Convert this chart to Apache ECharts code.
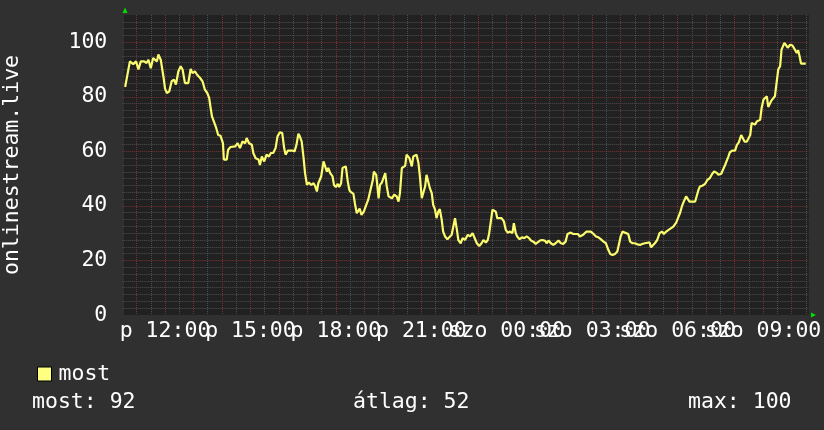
<!DOCTYPE html>
<html><head><meta charset="utf-8">
<script src="https://cdn.jsdelivr.net/npm/echarts@6/dist/echarts.min.js"></script>
<style>html,body{margin:0;padding:0;background:#303030;}#c{width:824px;height:430px;}</style>
</head><body><div id="c"></div>
<script>
// minutes since Friday 00:00
const times = [636,646,653,659,664,669,676,681,685,690,695,703,706,711,715,717,720,724,729,734,739,743,748,753,757,762,769,774,778,783,788,794,799,804,809,813,816,819,823,828,832,837,842,844,850,853,858,
868,873,878,883,889,892,897,903,906,911,917,920,924,929,934,939,943,948,953,957,962,967,971,974,979,983,988,993,997,1001,1004,1008,1012,1015,1019,1023,1028,1033,1036,1040,1043,1049,1054,1057,1061,1064,1068,1073,1076,1080,1084,1087,1091,1094,1098,1101,1105,1108,
1110,1117,1120,1124,1130,1134,1139,1144,1148,1153,1158,1160,1165,1170,1173,1177,1180,1184,1187,1191,1194,1198,1203,1208,1212,1215,1219,1222,1226,1229,1235,1240,1243,1247,1250,1254,1257,1261,1264,1268,1271,1275,1278,1282,1285,1289,1292,1296,1299,1303,1306,1310,1315,1319,1324,1328,1331,1335,1338,1343,1347,
1352,1358,1363,1368,1372,1377,1382,1387,1391,1396,1400,1403,1407,1410,1414,1417,1420,1424,1429,1434,1438,1442,1447,1452,1455,1459,1462,1467,1472,1477,1482,1487,1491,1496,1501,1505,1510,1515,1521,1524,1528,1533,1538,1543,1549,1554,1559,1564,1568,1575,1580,1584,1590,
1594,1601,1608,1612,1617,1623,1628,1633,1638,1644,1649,1654,1658,1663,1668,1673,1677,1680,1684,1689,1696,1700,1705,1710,1715,1721,1726,1731,1735,1741,1744,1748,1752,1757,1762,1767,1771,1776,1781,1785,1791,1797,1802,1805,1809,1814,1818,1821,1825,1830,
1837,1840,1844,1847,1852,1858,1863,1868,1873,1877,1882,1886,1892,1896,1900,1903,1907,1910,1915,1921,1925,1929,1934,1936,1941,1946,1949,1953,1956,1960,1963,1967,1970,1974,1977,1981,1984,1988,1991,1995,1998,2002,2005,2009,2012,2016,2019,2023,2025,2028,2032,2037,2042,2046,2051,2054,2057,2060,2065,2070];
const values = [83.6,93,92,93,90,93,93,92.4,93.6,90.5,94.2,93,95.5,93.6,93,87,83,81.4,82,85.7,86.3,84.5,89.3,91.2,90,85,85,90.2,88.7,89.3,88,86.9,85.7,82.6,81.4,79.6,76,72.8,72.2,68.5,66,65.7,63,57,57,60.6,61.6,
61.8,63,61.2,63.6,63,64.9,63,62.4,59.4,57.5,57,55,58.1,56.3,58.8,58.1,59.4,59.4,61.2,65.5,67,66.7,61.2,58.8,60.3,60,60.3,60,62.4,66.5,65.5,63.6,57.5,52,47.7,48.6,47.7,48.3,47.4,45.3,48.3,50.8,56.3,56.7,52.6,53.9,52,50.8,47.7,46.9,48.1,46.9,48.3,53.9,54.3,54.5,49,46.1,
45.3,44.4,41,37.3,39,36.7,38,40.4,42.2,45.9,49.6,52.6,51.4,42.8,47.7,48.6,49,52,47.4,43.5,44.1,42.8,44.1,43.5,41.6,44.7,53.9,54.5,54.7,58.8,57.5,54.5,58.1,58.4,58.8,55.7,50.8,42.8,43.5,47.1,51.4,50.8,46.5,44.7,40.4,38.6,35.5,38,38.8,34.9,30.6,28.8,27.8,28.2,29.4,30,35.5,31.2,27.5,26.3,28.2,
27.5,29.4,28.8,30,30.6,26.3,25.3,26.3,27.5,26.6,27.5,30,30.6,38.6,38.8,37.9,35.5,34.9,35.5,34.3,31.2,30.2,30.6,30,33.7,30,28.8,27.8,28.5,28.2,28.8,28.2,27.3,26.9,26.1,26.3,27.3,27.5,27.2,26.3,27.3,26.3,25.7,26.3,27.3,26.3,26.1,26.9,29.7,30.2,29.7,29.4,29.7,
28.8,29.4,30.6,31.2,30.6,29.7,28.8,28.5,27.8,26.9,26.3,23.9,22.4,22,22.4,23.3,23.9,28.8,30.6,30.2,29.7,26.9,26.3,26.3,25.9,25.7,26.1,26.3,26.6,26.6,24.8,25.3,26.3,27.5,30,30.6,29.7,30.6,31.2,31.2,32.4,33.9,36.1,37.3,39.8,42,43.5,43.8,41.6,41.6,
41.6,42.2,45.9,47.1,47.4,48.1,49.6,50.2,51.8,52.6,52.2,51.4,51.8,51.4,55,55.7,58.1,59.6,60.3,60.3,62.4,63.3,66,66.3,63.6,63.6,63,66,70.4,70.6,69.8,71,71.4,71.6,75.9,79,79,80.2,76.3,76.5,78.7,79.2,80.2,80.8,90,91.2,97.3,97.6,99.8,99.5,98,99.1,98.8,97.6,96.1,97.1,94.9,92.2,92.2,92.2];
const xTickMinutes = [720, 900, 1080, 1260, 1440, 1620, 1800, 1980];
const xTickTexts = ['p 12:00','p 15:00','p 18:00','p 21:00','szo 00:00','szo 03:00','szo 06:00','szo 09:00'];
const yTickValues = [0, 20, 40, 60, 80, 100];
const seriesName = 'most';
const axisTitle = 'onlinestream.live';
const statTexts = ['most: 92', 'átlag: 52', 'max: 100'];

const FONT = 'DejaVu Sans Mono';
const FS = 21.5;
const RED = '#7a3232', GRAY = '#4e4e4e';
const chart = echarts.init(document.getElementById('c'), null, {renderer: 'canvas'});
const data = times.map((t, i) => [t, values[i]]);
const fontStr = FS + 'px "' + FONT + '"';
chart.setOption({
  backgroundColor: '#303030',
  animation: false,
  grid: {left: 122.3, top: 15, width: 686.3, height: 300, containLabel: false, outerBoundsMode: 'none', show: false},
  legend: {
    data: [{name: seriesName, icon: 'rect'}],
    left: 32, top: 358, itemWidth: 14, itemHeight: 14, itemGap: 0,
    itemStyle: {color: '#ffff80', borderColor: '#000', borderWidth: 1},
    textStyle: {color: '#ffffff', fontFamily: FONT, fontSize: FS, padding: [0, 0, 0, 2]}
  },
  xAxis: {
    type: 'value', min: 630, max: 2076, interval: 30,
    axisLine: {show: false}, axisTick: {show: false},
    splitLine: {show: true, showMinLine: false, showMaxLine: false,
      lineStyle: {color: [RED, GRAY], width: 1, type: [1, 1]}},
    axisLabel: {
      show: true, margin: 5, color: '#ffffff', fontFamily: FONT, fontSize: FS,
      hideOverlap: false, showMinLabel: true, showMaxLabel: true,
      formatter: v => { const i = xTickMinutes.indexOf(Math.round(v)); return i >= 0 ? xTickTexts[i] : ''; }
    }
  },
  yAxis: {
    type: 'value', min: 0, max: 110, interval: 2.5,
    axisLine: {show: false}, axisTick: {show: false},
    splitLine: {show: true, showMinLine: false, showMaxLine: false,
      lineStyle: {color: [GRAY, GRAY, GRAY, GRAY, GRAY, GRAY, GRAY, RED], width: 1, type: [1, 1]}},
    axisLabel: {
      show: true, margin: 15, color: '#ffffff', fontFamily: FONT, fontSize: FS, padding: [4, 0, 0, 0],
      showMinLabel: true, showMaxLabel: true,
      formatter: v => yTickValues.indexOf(v) >= 0 ? String(v) : ''
    }
  },
  graphic: [
    {type: 'rect', z: -10, silent: true, shape: {x: 124, y: 15, width: 685, height: 300}, style: {fill: '#212121'}},
    {type: 'polygon', shape: {points: [[122.5, 13], [127.5, 13], [125, 7.5]]}, style: {fill: '#00e000'}},
    {type: 'polygon', shape: {points: [[811, 312.5], [811, 317.5], [816, 315]]}, style: {fill: '#00e000'}},
    {type: 'text', x: 12, y: 165, rotation: Math.PI / 2,
      style: {text: axisTitle, fill: '#ffffff', font: fontStr, align: 'center', verticalAlign: 'middle'}},
    {type: 'text', x: 32, y: 402, style: {text: statTexts[0], fill: '#ffffff', font: fontStr, align: 'left', verticalAlign: 'middle'}},
    {type: 'text', x: 353, y: 402, style: {text: statTexts[1], fill: '#ffffff', font: fontStr, align: 'left', verticalAlign: 'middle'}},
    {type: 'text', x: 688, y: 402, style: {text: statTexts[2], fill: '#ffffff', font: fontStr, align: 'left', verticalAlign: 'middle'}}
  ],
  series: [{
    name: seriesName, type: 'line', data: data, showSymbol: false, symbol: 'none',
    lineStyle: {color: '#fbfb6e', width: 2.2}, itemStyle: {color: '#ffff80'}, z: 5
  }]
});
</script></body></html>
